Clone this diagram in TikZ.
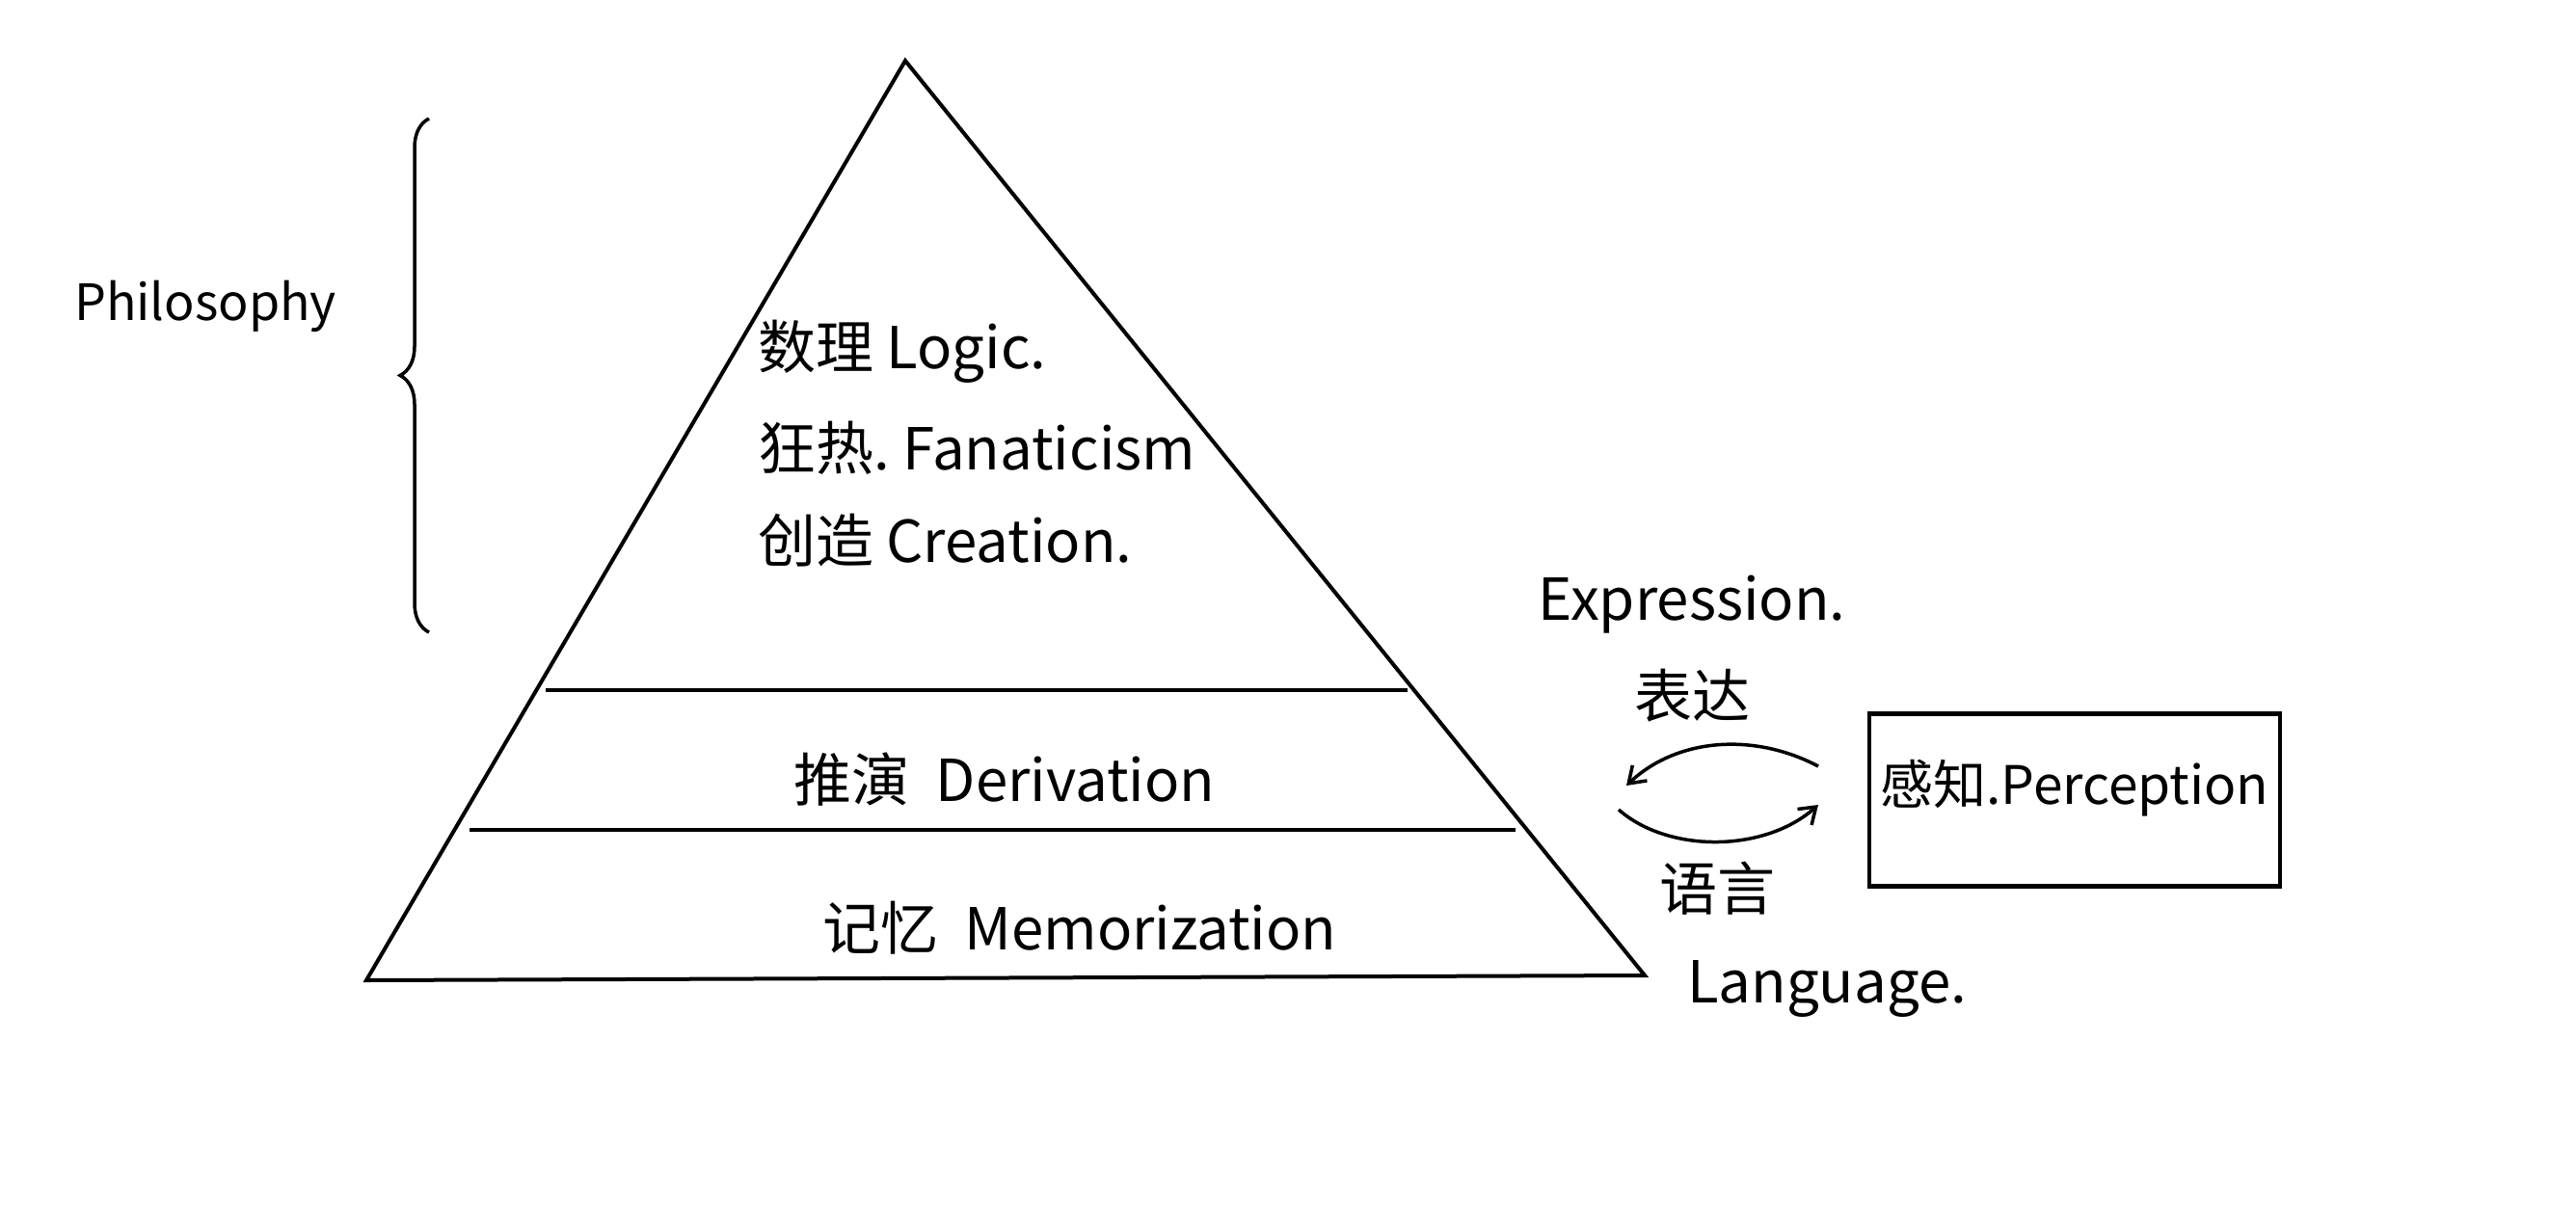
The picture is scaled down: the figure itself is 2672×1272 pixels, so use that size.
\documentclass[tikz,border=0pt]{standalone}
\usepackage{fontspec}
\setmainfont{Noto Sans CJK SC}
\usetikzlibrary{decorations.pathreplacing,arrows.meta}
\begin{document}
\begin{tikzpicture}[x=1pt,y=-1pt,line width=4pt,
  lbl/.style={font=\fontsize{60}{70}\selectfont,inner sep=0pt},
  arr/.style={-{Straight Barb[length=16pt,width=22pt]},line width=3.5pt}]
\useasboundingbox[fill=white] (0,0) rectangle (2672,1272);
\coordinate (apex) at (939,63);
\coordinate (bl) at (380,1017);
\coordinate (br) at (1706,1012);
\draw (bl) -- (apex) -- (br) -- cycle;
\coordinate (l1a) at (566,716); \coordinate (l1b) at (1460,716);
\coordinate (l2a) at (487,861); \coordinate (l2b) at (1572,861);
\draw (l1a) -- (l1b);
\draw (l2a) -- (l2b);
\node[lbl,anchor=west] (t1) at (784,365) {数理\ Logic.};
\node[lbl,anchor=west] (t2) at (784,465) {狂热.\ Fanaticism};
\node[lbl,anchor=west] (t3) at (784,561) {创造\ Creation.};
\node[lbl] (der) at (1042,809) {推演\ \ Derivation};
\node[lbl] (mem) at (1120,963) {记忆\ \ Memorization};
\node[lbl,font=\fontsize{52}{60}\selectfont] (phil) at (213,318) {Philosophy};
\coordinate (bt) at (445,123); \coordinate (bb) at (445,656);
\draw[decorate,decoration={brace,amplitude=30pt},line width=3.5pt] (bb) -- (bt);
\node[lbl] (expr) at (1755,627) {Expression.};
\node[lbl] (biaoda) at (1755,722) {表达};
\node[lbl] (yuyan) at (1781,922) {语言};
\node[lbl] (lang) at (1895,1026) {Language.};
\node[draw,minimum width=426pt,minimum height=179pt,line width=4.5pt,lbl] (perc) at (2152,830) {};
\node[lbl,font=\fontsize{55}{64}\selectfont] (ptext) at (2152,818) {感知.Perception};
\coordinate (a1s) at (1886,795); \coordinate (a1e) at (1687,815);
\coordinate (a2s) at (1679,840); \coordinate (a2e) at (1886,835);
\draw[arr] (a1s) .. controls (1820,760) and (1740,765) .. (a1e);
\draw[arr] (a2s) .. controls (1730,885) and (1830,885) .. (a2e);
\end{tikzpicture}
\end{document}
